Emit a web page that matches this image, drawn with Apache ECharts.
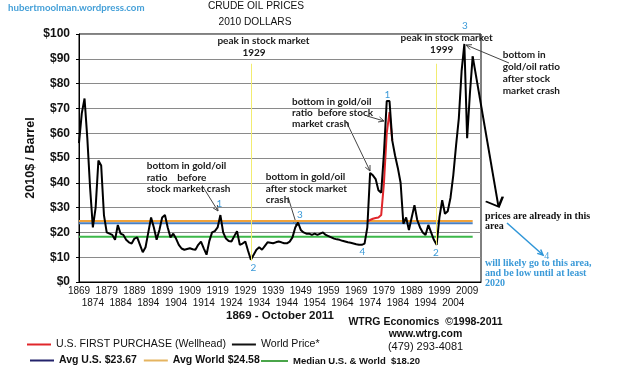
<!DOCTYPE html>
<html>
<head>
<meta charset="utf-8">
<script src="https://cdn.jsdelivr.net/npm/echarts@6/dist/echarts.min.js"></script>
<style>
html, body { margin: 0; width: 100%; height: 100%; background: #fff; }
#main { width: 643px; height: 376px; }
</style>
</head>
<body>
<div id="main"></div>
<script>
// crude oil, world price in 2010 dollars, one value per year from 1869 to 2011
var startYear = 1869;
var worldPrice = [
    56, 68, 74, 58, 38, 22, 30, 49, 47, 27,
    20, 19.5, 19, 17, 23, 19.5, 19, 17, 16, 15.5,
    17.5, 18, 15, 12, 14, 20, 26, 22, 17, 21,
    26, 27, 22, 18, 19.5, 17.5, 15, 13.5, 13, 13.3,
    13.6, 13.2, 13, 15, 16.3, 13.6, 11, 16.5, 20, 20.5,
    22, 27, 20, 17.5, 16.5, 16.3, 18.5, 20.5, 15, 15.5,
    16.3, 12.5, 9, 11, 13, 14, 13, 14.5, 16, 15.8,
    15.6, 16, 16.3, 16, 15.6, 15.6, 16.3, 18, 22, 24,
    21, 20, 19.5, 19.5, 19, 19.5, 19, 19.5, 20, 19,
    18.5, 18, 17.5, 17.2, 17, 16.6, 16.3, 16, 15.8, 15.5,
    15.2, 15, 15, 15.5, 22, 44, 43, 41.5, 37, 36,
    52, 73, 73, 57, 51, 46, 40, 23.5, 26, 21,
    26, 31, 25, 22, 20, 19, 23, 20, 17, 15,
    26, 33, 27.5, 28.5, 34, 43, 55, 66, 85, 96,
    58, 76, 91
];
// U.S. first purchase (wellhead), only the part not hidden by the world line
var firstPurchaseYears = [1973, 1974, 1975, 1976, 1977, 1978, 1979, 1980, 1981, 1982];
var firstPurchase = [24.5, 25, 25.5, 25.8, 26, 27, 40, 60, 68.5, 57];
// hand drawn projection
var projYears = [2011, 2020.3];
var projValues = [91, 30.4];
// reference levels
var avgUS = 23.67, avgWorld = 24.58, medianAll = 18.20;
var avgFrom = 1869, avgTo = 2011;
// yellow marker lines (stock market peaks)
var yellowYears = [1931.3, 1998];
var yellowTop = [88, 88];
var yellowBottom = [8.5, 15];
// tick labels, two staggered rows
var xLabelsTop = [1869, 1879, 1889, 1899, 1909, 1919, 1929, 1939, 1949, 1959, 1969, 1979, 1989, 1999, 2009];
var xLabelsBottom = [1874, 1884, 1894, 1904, 1914, 1924, 1934, 1944, 1954, 1964, 1974, 1984, 1994, 2004];
var yMin = 0, yMax = 100, yStep = 10;
var xMin = 1869, xMax = 2014;

var chart = echarts.init(document.getElementById('main'));

// plot box and a wider invisible box (same scale) for the projection drawn past the frame
var gridLeft = 79, gridRight = 162, gridRightWide = 120;
var xMaxWide = xMin + (xMax - xMin) * (643 - gridRightWide - gridLeft) / (643 - gridRight - gridLeft);

var worldData = worldPrice.map(function (v, i) { return [startYear + i, v]; });
var fpData = firstPurchase.map(function (v, i) { return [firstPurchaseYears[i], v]; });
var projData = [
    { value: [projYears[0], projValues[0]], symbol: 'none' },
    {
        value: [projYears[1], projValues[1]],
        symbol: 'path://M0,4.7 L12.7,10 L16.7,0',
        symbolSize: [17, 10],
        symbolOffset: [-4.2, -5],
        itemStyle: { color: 'rgba(0,0,0,0)', borderColor: '#000', borderWidth: 2 }
    }
];

function levelLine(name, value, color, extra) {
    var s = {
        name: name,
        type: 'line',
        data: [[avgFrom, value], [avgTo, value]],
        symbol: 'none',
        silent: true,
        lineStyle: { color: color, width: 2 },
        itemStyle: { color: color },
        z: 2
    };
    if (extra) for (var k in extra) s[k] = extra[k];
    return s;
}

var yellowMarks = yellowYears.map(function (y, i) {
    return [{ coord: [y, yellowTop[i]] }, { coord: [y, yellowBottom[i]] }];
});

var labelFont = 'Lato, "Open Sans", sans-serif';
var annColor = '#1a1a1a';
var numBlue = '#3b9ad8';

function txt(x, y, text, opt) {
    opt = opt || {};
    return {
        type: 'text', x: x, y: y, z: 100,
        style: {
            text: text,
            fontFamily: opt.family || labelFont,
            fontSize: opt.size || 10,
            fontWeight: opt.weight || 'bold',
            fill: opt.color || annColor,
            align: opt.align || 'left',
            verticalAlign: opt.valign || 'middle',
            lineHeight: opt.lh || 12
        }
    };
}

function arrow(x1, y1, x2, y2, color, w) {
    var a = Math.atan2(y2 - y1, x2 - x1), L = 6, s = 0.45;
    return {
        type: 'group', z: 100,
        children: [
            { type: 'polyline', shape: { points: [[x1, y1], [x2, y2]] }, style: { stroke: color, lineWidth: w, fill: null } },
            { type: 'polyline', shape: { points: [
                [x2 - L * Math.cos(a - s), y2 - L * Math.sin(a - s)], [x2, y2],
                [x2 - L * Math.cos(a + s), y2 - L * Math.sin(a + s)]] },
              style: { stroke: color, lineWidth: w, fill: null } }
        ]
    };
}

var graphics = [
    txt(8, 8, 'hubertmoolman.wordpress.com', { color: '#45a0d8', size: 9.7 }),
    txt(256, 6, 'CRUDE OIL PRICES', { family: 'Liberation Sans', weight: 'normal', size: 10.2, align: 'center', color: '#111' }),
    txt(255, 22, '2010 DOLLARS', { family: 'Liberation Sans', weight: 'normal', size: 10.2, align: 'center', color: '#111' }),
    txt(263.5, 41, 'peak in stock market', { align: 'center' }),
    txt(254, 53, '1929', { align: 'center' }),
    txt(446.7, 38, 'peak in stock market', { align: 'center' }),
    txt(441.7, 50, '1999', { align: 'center' }),
    txt(502.7, 48.5, 'bottom in\ngold/oil ratio\nafter stock\nmarket crash', { valign: 'top', lh: 12 }),
    txt(146.7, 160, 'bottom in gold/oil\nratio    before\nstock market crash', { valign: 'top', lh: 11.7 }),
    txt(292, 96.5, 'bottom in gold/oil\nratio  before stock\nmarket crash', { valign: 'top', lh: 11 }),
    txt(265.7, 171, 'bottom in gold/oil\nafter stock market\ncrash', { valign: 'top', lh: 11.7 }),
    txt(485, 210.7, 'prices are already in this\narea', { family: 'Liberation Serif', size: 10, valign: 'top', lh: 10.7, color: '#111' }),
    txt(485, 258.3, 'will likely go to this area,\nand be low until at least\n2020', { family: 'Liberation Serif', size: 10, valign: 'top', lh: 10, color: numBlue }),
    txt(219.3, 203.3, '1', { weight: 'normal', color: numBlue, align: 'center' }),
    txt(253.3, 267.3, '2', { weight: 'normal', color: numBlue, align: 'center' }),
    txt(300, 215, '3', { weight: 'normal', color: numBlue, align: 'center' }),
    txt(362.3, 251.7, '4', { weight: 'normal', color: numBlue, align: 'center' }),
    txt(387.3, 95, '1', { weight: 'normal', color: numBlue, align: 'center' }),
    txt(465, 26, '3', { weight: 'normal', color: numBlue, align: 'center' }),
    txt(436, 252.7, '2', { weight: 'normal', color: numBlue, align: 'center' }),
    txt(546.7, 256, '4', { weight: 'normal', color: numBlue, align: 'center', family: 'Liberation Serif' }),
    arrow(203, 187, 218, 211, '#444', 1),
    arrow(346, 121, 370, 171, '#444', 1),
    arrow(367, 116, 384, 121, '#444', 1),
    arrow(288, 197, 297, 226, '#444', 1),
    arrow(509, 63, 466, 45, '#444', 1),
    arrow(507, 223, 543, 255, '#2f96d8', 1.5),
    txt(425.5, 322.3, 'WTRG Economics  \u00a91998-2011', { family: 'Liberation Sans', size: 10.5, align: 'center', color: '#111' }),
    txt(425.5, 334, 'www.wtrg.com', { family: 'Liberation Sans', size: 10.5, align: 'center', color: '#111' }),
    txt(425.5, 347, '(479) 293-4081', { family: 'Liberation Sans', weight: 'normal', size: 11, align: 'center', color: '#111' })
];

var legendBase = {
    orient: 'horizontal', padding: 0, itemGap: 6, itemWidth: 24, itemHeight: 2,
    icon: 'rect', selectedMode: false
};

var yearLabel = {
    fontSize: 10, color: '#111', fontFamily: 'Liberation Sans',
    formatter: function (v) { return String(v); }
};

var option = {
    animation: false,
    backgroundColor: '#fff',
    textStyle: { fontFamily: 'Liberation Sans' },
    grid: [
        { left: gridLeft, right: gridRight, top: 34, bottom: 94, show: true, borderColor: '#000', borderWidth: 1 },
        { left: gridLeft, right: gridRightWide, top: 34, bottom: 94, show: false }
    ],
    legend: [
        echarts.util.merge({
            left: 27, top: 339,
            textStyle: { fontFamily: 'Liberation Sans', fontSize: 10.6, color: '#111' },
            data: [
                { name: 'U.S. FIRST PURCHASE (Wellhead)', itemStyle: { color: '#e0262b' } },
                { name: 'World Price*', itemStyle: { color: '#111' } }
            ]
        }, legendBase),
        echarts.util.merge({
            left: 30, top: 355,
            itemGap: 7,
            textStyle: { fontFamily: 'Liberation Sans', fontSize: 10.5, fontWeight: 'bold', color: '#111' },
            data: [
                { name: 'Avg U.S. $23.67', itemStyle: { color: '#23236b' } },
                { name: 'Avg World $24.58', itemStyle: { color: '#e5b460' } }
            ]
        }, legendBase),
        echarts.util.merge({
            left: 261, top: 356,
            itemWidth: 27,
            textStyle: { fontFamily: 'Liberation Sans', fontSize: 9.5, fontWeight: 'bold', color: '#111' },
            data: [
                { name: 'Median U.S. & World  $18.20', itemStyle: { color: '#4aa54a' } }
            ]
        }, legendBase)
    ],
    xAxis: [
        {
            type: 'value', min: xMin, max: xMax, gridIndex: 0,
            axisLine: { show: true, lineStyle: { color: '#000', width: 1 } },
            axisTick: { show: false },
            splitLine: { show: false },
            axisLabel: echarts.util.merge({ customValues: xLabelsTop, margin: 4 }, yearLabel),
            name: '1869 - October 2011',
            nameLocation: 'middle',
            nameGap: 28,
            nameMoveOverlap: false,
            nameTextStyle: { fontSize: 11.5, fontWeight: 'bold', color: '#111', verticalAlign: 'top' }
        },
        {
            type: 'value', min: xMin, max: xMax, gridIndex: 0, position: 'bottom',
            axisLine: { show: false },
            axisTick: { show: false },
            splitLine: { show: false },
            axisLabel: echarts.util.merge({ customValues: xLabelsBottom, margin: 16 }, yearLabel)
        },
        {
            type: 'value', min: xMin, max: xMaxWide, gridIndex: 1, show: false
        }
    ],
    yAxis: [
        {
            type: 'value', min: yMin, max: yMax, interval: yStep, gridIndex: 0,
            axisLine: { show: true, lineStyle: { color: '#000', width: 1 } },
            axisTick: { show: true, length: 3, lineStyle: { color: '#000' } },
            splitLine: { show: true, lineStyle: { color: '#8a8a8a', width: 1 } },
            axisLabel: {
                margin: 9, fontSize: 12, fontWeight: 'bold', color: '#111',
                formatter: function (v) { return '$' + v; }
            },
            name: '2010$ / Barrel',
            nameLocation: 'middle',
            nameGap: 42,
            nameMoveOverlap: false,
            nameTextStyle: { fontSize: 12.5, fontWeight: 'bold', color: '#111' }
        },
        {
            type: 'value', min: yMin, max: yMax, gridIndex: 1, show: false
        }
    ],
    series: [
        levelLine('Avg World $24.58', avgWorld, '#f0a23a', {
            markLine: {
                silent: true, symbol: 'none', label: { show: false },
                lineStyle: { color: '#f2ec70', width: 1, type: 'solid' },
                data: yellowMarks
            }
        }),
        levelLine('Avg U.S. $23.67', avgUS, '#4a7fc1'),
        levelLine('Median U.S. & World  $18.20', medianAll, '#3cb84a'),
        {
            name: 'U.S. FIRST PURCHASE (Wellhead)',
            type: 'line', data: fpData, symbol: 'none', silent: true,
            lineStyle: { color: '#e0262b', width: 2 }, itemStyle: { color: '#e0262b' }, z: 3
        },
        {
            name: 'World Price*',
            type: 'line', data: worldData, symbol: 'none', silent: true,
            lineStyle: { color: '#000', width: 2 }, itemStyle: { color: '#000' }, z: 4
        },
        {
            name: 'projection',
            type: 'line', data: projData, xAxisIndex: 2, yAxisIndex: 1,
            symbol: 'none', showSymbol: true, silent: true,
            lineStyle: { color: '#000', width: 2 }, z: 4
        }
    ],
    graphic: { elements: graphics }
};

chart.setOption(option);
window.onresize = chart.resize;
</script>
</body>
</html>
